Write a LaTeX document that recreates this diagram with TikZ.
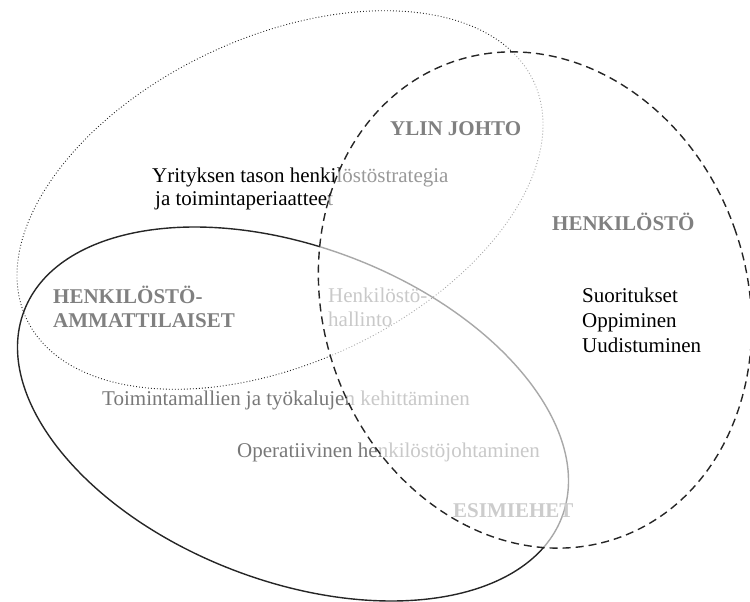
\documentclass[tikz,border=0pt]{standalone}
\usepackage{fontspec}
\setmainfont{Liberation Serif}
\definecolor{headgray}{gray}{0.5}
\definecolor{midgray}{gray}{0.47}
\definecolor{linedark}{gray}{0.15}
\begin{document}
\begin{tikzpicture}[x=1pt,y=-1pt,
  lbl/.style={inner sep=0pt, anchor=base west, font=\fontsize{21}{24}\selectfont},
  head/.style={lbl, font=\fontsize{21}{24}\selectfont\bfseries, text=headgray},
  dotline/.style={draw=linedark, line width=0.9pt, dash pattern=on 0.9pt off 2.1pt},
  solidline/.style={draw=linedark, line width=1.4pt},
  dashline/.style={draw=linedark, line width=1.4pt, dash pattern=on 8pt off 5pt},
  veil/.style={fill=white, fill opacity=0.6}]
\useasboundingbox (0,0) rectangle (750,602);
% layer below the veil
\path[dotline, rotate around={25:(280,200)}] (280,200) ellipse [x radius=280pt, y radius=163pt];
\path[solidline, rotate around={-21:(293,414)}] (293,414) ellipse [x radius=288pt, y radius=167pt];
\node[lbl] (yr1) at (152,182) {Yrityksen tason henkilöstöstrategia};
\node[lbl] (yr2) at (155,205) {ja toimintaperiaatteet};
\node[lbl, text=midgray] (hh1) at (328,302) {Henkilöstö-};
\node[lbl, text=midgray] (hh2) at (328,326) {hallinto};
\node[lbl, text=midgray] (tm) at (102,405) {Toimintamallien ja työkalujen kehittäminen};
\node[lbl, text=midgray] (op) at (237,457) {Operatiivinen henkilöstöjohtaminen};
\node[head] (esi) at (453,517) {ESIMIEHET};
% dashed ellipse with translucent white veil
\fill[veil, rotate around={19:(535,300)}] (535,300) ellipse [x radius=212pt, y radius=252pt];
\path[dashline, rotate around={19:(535,300)}] (535,300) ellipse [x radius=212pt, y radius=252pt];
% labels above the veil
\node[head] (ylin) at (390,135) {YLIN JOHTO};
\node[head] (henk) at (552,230) {HENKILÖSTÖ};
\node[head] (am1) at (53,303) {HENKILÖSTÖ-};
\node[head] (am2) at (53,327) {AMMATTILAISET};
\node[lbl] (s1) at (582,302) {Suoritukset};
\node[lbl] (s2) at (582,327) {Oppiminen};
\node[lbl] (s3) at (582,352) {Uudistuminen};
\end{tikzpicture}
\end{document}
